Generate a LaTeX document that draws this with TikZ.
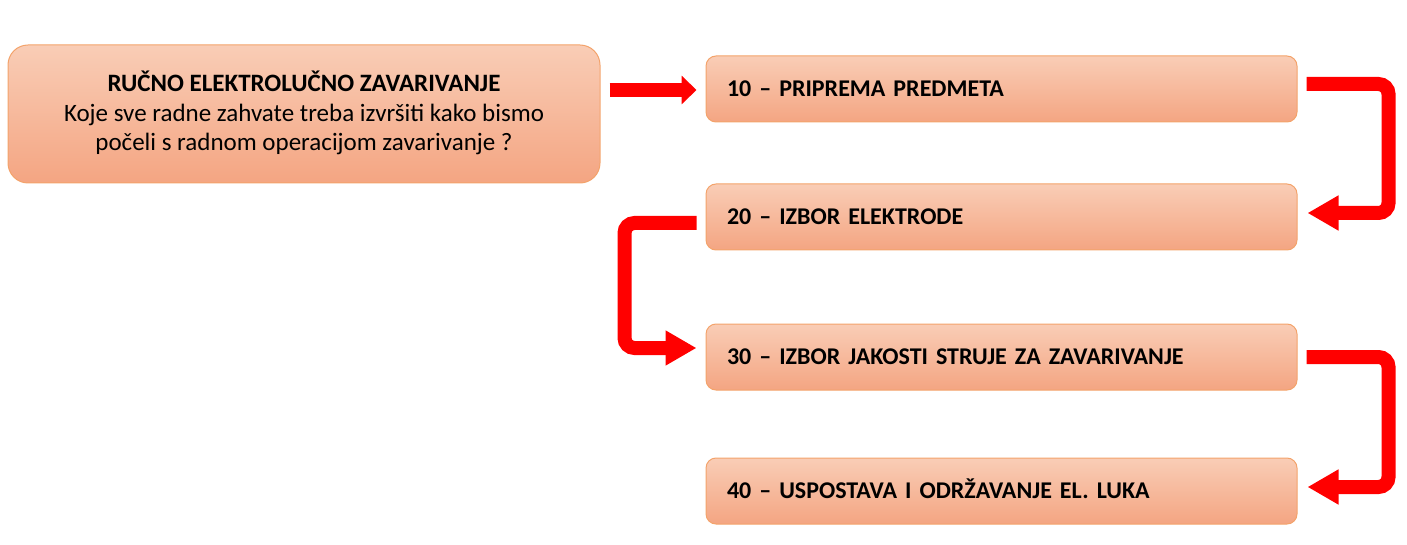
\documentclass[tikz,border=0pt]{standalone}
\usepackage{fontspec}
\setmainfont{Carlito}
\usetikzlibrary{arrows.meta,calc}
\definecolor{boxtop}{HTML}{F9CDB6}
\definecolor{boxbot}{HTML}{F4A582}
\definecolor{boxline}{HTML}{F3A36B}
\definecolor{arrred}{HTML}{FF0000}
\begin{document}
\begin{tikzpicture}[x=1pt,y=-1pt,
  mainbox/.style={draw=boxline, line width=1pt, rounded corners=20pt,
    top color=boxtop, bottom color=boxbot, minimum width=592pt,
    minimum height=138pt, align=center, inner sep=0pt,
    font=\fontsize{25}{29.5}\selectfont, text height=75pt, text depth=1pt},
  stepbox/.style={draw=boxline, line width=1pt, rounded corners=10pt,
    top color=boxtop, bottom color=boxbot, minimum width=591pt,
    minimum height=66pt, inner sep=0pt, text width=549pt, align=left,
    font=\fontsize{24}{28}\selectfont\bfseries, text height=15pt, text depth=0pt},
  flow/.style={draw=arrred, line width=14pt, rounded corners=10pt,
    -{Triangle[length=31pt,width=33pt]}},
  flowstraight/.style={draw=arrred, line width=14pt,
    -{Triangle[length=15pt,width=28pt]}}
]
\useasboundingbox (0,0) rectangle (1407,545);
\node[mainbox] (main) at (304,114) {{\bfseries RUČNO ELEKTROLUČNO ZAVARIVANJE}\\Koje sve radne zahvate treba izvršiti kako bismo\\počeli s radnom operacijom zavarivanje ?};
\node[stepbox] (b1) at (1001.5,89) {10 – PRIPREMA PREDMETA};
\node[stepbox] (b2) at (1001.5,217) {20 – IZBOR ELEKTRODE};
\node[stepbox] (b3) at (1001.5,357) {30 – IZBOR JAKOSTI STRUJE ZA ZAVARIVANJE};
\node[stepbox] (b4) at (1001.5,491) {40 – USPOSTAVA I ODRŽAVANJE EL. LUKA};
\draw[flowstraight] ($(main.east |- b1.west)+(9,1)$) -- ($(b1.west)+(-9,1)$);
\draw[flow] ($(b1.east)+(9,-5)$) -- ($(b1.east)+(91,-5)$) |- ($(b2.east)+(10,-4)$);
\draw[flow] ($(b2.west)+(-9,6)$) -- ($(b2.west)+(-81,6)$) |- ($(b3.west)+(-9,-9)$);
\draw[flow] ($(b3.east)+(9,0)$) -- ($(b3.east)+(91,0)$) |- ($(b4.east)+(10,-4)$);
\end{tikzpicture}
\end{document}
